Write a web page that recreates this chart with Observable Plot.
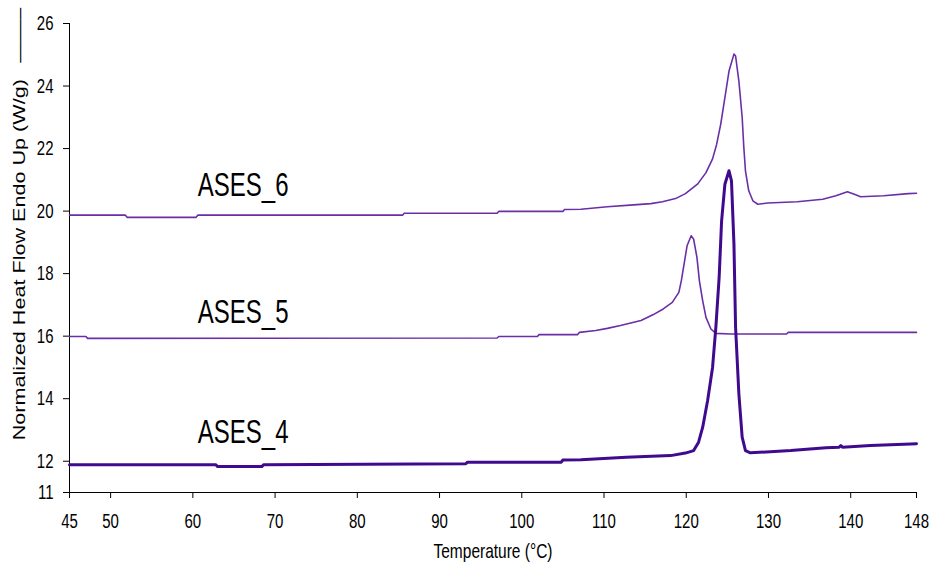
<!DOCTYPE html>
<html>
<head>
<meta charset="utf-8">
<script src="https://cdn.jsdelivr.net/npm/d3@7"></script>
<script src="https://cdn.jsdelivr.net/npm/@observablehq/plot@0.6"></script>
<style>
  html, body { margin: 0; padding: 0; background: #fff; }
  #chart svg { display: block; }
</style>
</head>
<body>
<div id="chart"></div>
<script>
// ---- data ----
const xTicks = [45, 50, 60, 70, 80, 90, 100, 110, 120, 130, 140, 148];
const yTicks = [11, 12, 14, 16, 18, 20, 22, 24, 26];

const ases6T = [45, 51.8, 52, 60.4, 60.6, 85.5, 85.7, 97, 97.2, 105, 105.2, 107.2, 110.4, 113.6, 115.7, 117.1, 118.7, 119.9, 121.4, 122.4, 123.2, 123.7, 124.2, 124.7, 125.2, 125.8, 126.0, 126.4, 126.8, 127.0, 127.2, 127.6, 128.1, 128.7, 129.9, 133.5, 136.6, 138.2, 139.6, 140.6, 141.2, 144.0, 147.0, 148];
const ases6V = [19.87, 19.87, 19.8, 19.8, 19.87, 19.87, 19.93, 19.93, 19.99, 19.99, 20.05, 20.06, 20.14, 20.2, 20.24, 20.3, 20.4, 20.56, 20.87, 21.23, 21.67, 22.14, 22.79, 23.63, 24.48, 25.02, 24.96, 24.16, 23.0, 22.04, 21.29, 20.65, 20.33, 20.22, 20.26, 20.3, 20.38, 20.49, 20.62, 20.52, 20.46, 20.49, 20.56, 20.57];

const ases5T = [45, 47, 47.2, 97, 97.2, 101.9, 102.1, 106.8, 107, 109, 110.4, 112, 114.5, 116, 117.2, 118.3, 119.1, 119.4, 119.8, 120.1, 120.6, 120.9, 121.3, 121.6, 122.0, 122.4, 123.0, 123.6, 125.4, 132.2, 132.4, 148];
const ases5V = [15.99, 15.99, 15.93, 15.94, 15.99, 15.99, 16.05, 16.05, 16.12, 16.18, 16.25, 16.34, 16.5, 16.69, 16.87, 17.08, 17.4, 17.77, 18.41, 18.89, 19.21, 19.1, 18.52, 17.77, 17.13, 16.6, 16.23, 16.09, 16.07, 16.07, 16.12, 16.12];

const ases4T = [45, 62.8, 63, 68.4, 68.6, 93.2, 93.4, 104.8, 105, 107.2, 112.7, 118.1, 119.9, 120.9, 121.5, 122.0, 122.6, 123.2, 123.6, 124.0, 124.3, 124.7, 125.2, 125.5, 125.8, 126.0, 126.4, 126.8, 127.2, 127.8, 132.7, 137.0, 138.6, 138.8, 139.0, 142.4, 147.3, 148];
const ases4V = [11.89, 11.89, 11.83, 11.83, 11.89, 11.92, 11.97, 11.97, 12.04, 12.05, 12.13, 12.18, 12.26, 12.34, 12.61, 13.09, 13.94, 15.0, 16.28, 17.88, 19.69, 20.86, 21.29, 20.97, 18.95, 16.28, 14.15, 12.77, 12.34, 12.27, 12.34, 12.43, 12.45, 12.5, 12.45, 12.5, 12.55, 12.56];

const seriesNames = ["ASES_6", "ASES_5", "ASES_4"];
const labelT = [60.6, 60.6, 60.6];
const labelV = [20.49, 16.43, 12.57];

const xLabel = "Temperature (°C)";
const yLabel = "Normalized Heat Flow Endo Up (W/g)\u00a0\u00a0\u2009\u2014\u2014\u2013";

// ---- build tables ----
const toRows = (T, V) => T.map((t, i) => ({T: t, v: V[i]}));
const s6 = toRows(ases6T, ases6V);
const s5 = toRows(ases5T, ases5V);
const s4 = toRows(ases4T, ases4V);
const labels = seriesNames.map((n, i) => ({name: n, T: labelT[i], v: labelV[i]}));

const font = "'Liberation Sans', Arial, Helvetica, sans-serif";
const thin = "#6a2fa6";
const thick = "#3f0a8e";

const chart = Plot.plot({
  width: 932,
  height: 562,
  marginTop: 23,
  marginBottom: 70,
  marginLeft: 69,
  marginRight: 16,
  x: {domain: [45, 148]},
  y: {domain: [11, 26]},
  style: {fontFamily: font, fontSize: "15px", color: "#000", background: "#fff"},
  marks: [
    Plot.axisX({ticks: xTicks, tickFormat: d => String(d), tickSize: 6, tickPadding: 15, label: null, fontSize: 15, stroke: "#000"}),
    Plot.axisY({ticks: yTicks, tickFormat: d => String(d), tickSize: 6, tickPadding: 10, label: null, fontSize: 15, stroke: "#000"}),
    Plot.ruleX([45], {stroke: "#000", strokeWidth: 1}),
    Plot.ruleY([11], {stroke: "#000", strokeWidth: 1}),
    Plot.line(s6, {x: "T", y: "v", stroke: thin, strokeWidth: 1.6}),
    Plot.line(s5, {x: "T", y: "v", stroke: thin, strokeWidth: 1.6}),
    Plot.line(s4, {x: "T", y: "v", stroke: thick, strokeWidth: 3}),
    Plot.text(labels, {x: "T", y: "v", text: "name", textAnchor: "start", lineAnchor: "bottom", fontSize: 24, fill: "#000"}),
    Plot.text([xLabel], {frameAnchor: "bottom", dy: 51, textAnchor: "middle", lineAnchor: "top", fontSize: 15.5, fill: "#000"}),
    Plot.text([yLabel], {frameAnchor: "left", dx: -50, dy: -34, textAnchor: "middle", lineAnchor: "middle", rotate: -90, fontSize: 16, fill: "#000"})
  ]
});

// The reference picture is stretched vertically; stretch glyphs the same way.
const k = 1.35;
d3.select(chart).selectAll("text").each(function () {
  const t = this.getAttribute("transform");
  if (t) {
    this.setAttribute("transform", t + (t.includes("rotate") ? ` scale(${k},1)` : ` scale(1,${k})`));
  } else {
    const x = +(this.getAttribute("x") || 0), y = +(this.getAttribute("y") || 0);
    this.setAttribute("transform", `translate(${x},${y}) scale(1,${k}) translate(${-x},${-y})`);
  }
});

document.getElementById("chart").appendChild(chart);
</script>
</body>
</html>
